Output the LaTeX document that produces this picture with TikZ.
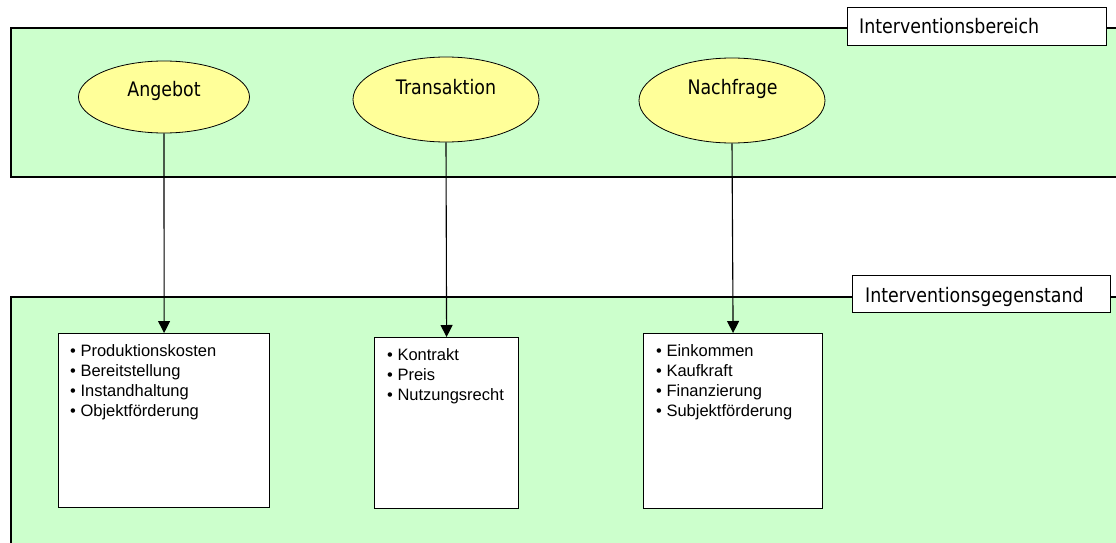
\documentclass[tikz,border=0pt]{standalone}
\usepackage{fontspec}
\setmainfont{Liberation Sans}
\newfontfamily\labfont[FakeStretch=0.87]{DejaVu Sans}
\usetikzlibrary{arrows.meta,shapes.geometric}
\definecolor{areagreen}{HTML}{CCFFCC}
\definecolor{ellyellow}{HTML}{FFFF99}
\tikzset{
  area/.style={draw=black, line width=1.2pt, fill=areagreen},
  labbox/.style={draw=black, line width=1.2pt, fill=white, anchor=north west, inner sep=0pt},
  labtext/.style={font=\labfont\fontsize{20}{24}\selectfont, anchor=base west, inner sep=0pt},
  elltext/.style={font=\labfont\fontsize{20}{24}\selectfont, anchor=base, inner sep=0pt},
  ell/.style={ellipse, draw=black, line width=0.8pt, fill=ellyellow, inner sep=0pt},
  listbox/.style={draw=black, line width=1.2pt, fill=white, anchor=north west, inner sep=0pt},
  item/.style={font=\fontsize{16.5}{20}\selectfont, anchor=base west, inner sep=0pt},
  conn/.style={draw=black, line width=1.1pt, -{Triangle[length=12pt,width=12pt]}}
}
\begin{document}
\begin{tikzpicture}[x=1pt,y=-1pt]
\useasboundingbox (0,0) rectangle (1116,543);
% top area
\draw[area] (11,28) rectangle (1125,177);
\node[labbox, minimum width=259pt, minimum height=38pt] (lb1) at (847,7) {};
\node[labtext] (lt1) at (859,34) {Interventionsbereich};
% ellipses
\node[ell, minimum width=171pt, minimum height=72pt] (e1) at (164,97) {};
\node[ell, minimum width=186pt, minimum height=85pt] (e2) at (446,99.5) {};
\node[ell, minimum width=186pt, minimum height=85pt] (e3) at (732,100.5) {};
\node[elltext] (t1) at (164,96.5) {Angebot};
\node[elltext] (t2) at (446,94.5) {Transaktion};
\node[elltext] (t3) at (732.5,95) {Nachfrage};
% bottom area
\draw[area] (11,297) rectangle (1125,560);
\node[labbox, minimum width=258pt, minimum height=37pt] (lb2) at (852,275) {};
\node[labtext] (lt2) at (865,302) {Interventionsgegenstand};
% boxes
\node[listbox, minimum width=211pt, minimum height=174pt] (b1) at (58,333) {};
\node[listbox, minimum width=144pt, minimum height=171pt] (b2) at (374,337) {};
\node[listbox, minimum width=179pt, minimum height=175pt] (b3) at (643,333) {};
% list items
\node[item] (i11) at (70,356) {• Produktionskosten};
\node[item] (i12) at (70,376) {• Bereitstellung};
\node[item] (i13) at (70,396) {• Instandhaltung};
\node[item] (i14) at (70,416) {• Objektförderung};
\node[item] (i21) at (387,360) {• Kontrakt};
\node[item] (i22) at (387,380) {• Preis};
\node[item] (i23) at (387,400) {• Nutzungsrecht};
\node[item] (i31) at (656,356) {• Einkommen};
\node[item] (i32) at (656,376) {• Kaufkraft};
\node[item] (i33) at (656,396) {• Finanzierung};
\node[item] (i34) at (656,416) {• Subjektförderung};
% connectors
\draw[conn] (e1.south) -- (b1.north);
\draw[conn] (e2.south) -- (b2.north);
\draw[conn] (e3.south) -- (b3.north);
\end{tikzpicture}
\end{document}
